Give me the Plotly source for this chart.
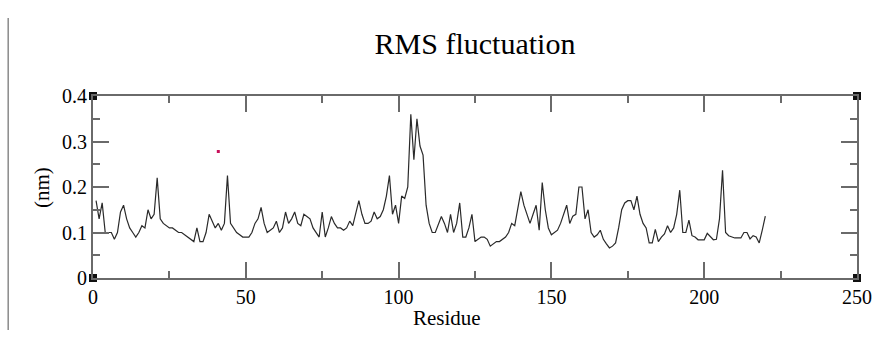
import plotly.graph_objects as go

# ---- data ----
rmsf = [
    0.170, 0.130, 0.165, 0.100, 0.100, 0.100, 0.085, 0.100, 0.145, 0.160,
    0.130, 0.110, 0.100, 0.090, 0.100, 0.115, 0.110, 0.150, 0.130, 0.140,
    0.220, 0.130, 0.120, 0.115, 0.110, 0.110, 0.105, 0.100, 0.100, 0.095,
    0.090, 0.085, 0.080, 0.110, 0.080, 0.080, 0.100, 0.140, 0.125, 0.110,
    0.120, 0.105, 0.120, 0.225, 0.120, 0.110, 0.100, 0.095, 0.090, 0.090,
    0.090, 0.100, 0.120, 0.130, 0.155, 0.120, 0.100, 0.105, 0.110, 0.125,
    0.100, 0.110, 0.145, 0.120, 0.130, 0.145, 0.120, 0.115, 0.140, 0.135,
    0.130, 0.110, 0.100, 0.090, 0.145, 0.090, 0.110, 0.135, 0.120, 0.110,
    0.110, 0.105, 0.110, 0.125, 0.115, 0.140, 0.170, 0.140, 0.120, 0.120,
    0.125, 0.145, 0.130, 0.135, 0.150, 0.180, 0.225, 0.140, 0.160, 0.120,
    0.180, 0.175, 0.200, 0.360, 0.260, 0.350, 0.290, 0.270, 0.160, 0.120,
    0.100, 0.100, 0.120, 0.135, 0.120, 0.100, 0.140, 0.100, 0.120, 0.165,
    0.090, 0.090, 0.110, 0.140, 0.080, 0.085, 0.090, 0.090, 0.085, 0.070,
    0.075, 0.080, 0.080, 0.085, 0.090, 0.100, 0.120, 0.115, 0.150, 0.190,
    0.160, 0.140, 0.120, 0.140, 0.160, 0.105, 0.210, 0.150, 0.110, 0.095,
    0.100, 0.105, 0.120, 0.140, 0.160, 0.120, 0.136, 0.140, 0.200, 0.200,
    0.130, 0.150, 0.100, 0.090, 0.095, 0.105, 0.085, 0.075, 0.066, 0.070,
    0.077, 0.110, 0.150, 0.165, 0.170, 0.170, 0.150, 0.180, 0.140, 0.120,
    0.110, 0.077, 0.077, 0.107, 0.080, 0.090, 0.097, 0.115, 0.100, 0.110,
    0.140, 0.193, 0.100, 0.100, 0.127, 0.093, 0.090, 0.084, 0.084, 0.084,
    0.098, 0.090, 0.084, 0.085, 0.130, 0.237, 0.100, 0.093, 0.090, 0.088,
    0.088, 0.088, 0.100, 0.100, 0.086, 0.093, 0.090, 0.077, 0.105, 0.136,
]
residues = list(range(1, len(rmsf) + 1))

stray_x = [41]
stray_y = [0.278]

x_range = [0, 250]
y_range = [0, 0.4]
x_ticks = [0, 50, 100, 150, 200, 250]
y_ticks = [0, 0.1, 0.2, 0.3, 0.4]
y_tick_text = ["0", "0.1", "0.2", "0.3", "0.4"]

title_text = "RMS fluctuation"
x_title = "Residue"
y_title = "(nm)"

SERIF = "Liberation Serif, Times New Roman, serif"
AXC = "#6a6a6a"

fig = go.Figure()
fig.add_trace(go.Scatter(
    x=residues, y=rmsf, mode="lines",
    line=dict(color="#2a2a2a", width=1.2),
    showlegend=False, hoverinfo="skip",
))
fig.add_trace(go.Scatter(
    x=stray_x, y=stray_y, mode="markers",
    marker=dict(color="#c8105a", size=3, symbol="square"),
    showlegend=False, hoverinfo="skip",
))
# corner handles
fig.add_trace(go.Scatter(
    x=[x_range[0], x_range[0], x_range[1], x_range[1]],
    y=[y_range[0], y_range[1], y_range[1], y_range[0]],
    mode="markers",
    marker=dict(color="#111111", size=8, symbol="square"),
    cliponaxis=False, showlegend=False, hoverinfo="skip",
))

fig.update_layout(
    width=889, height=345,
    margin=dict(l=93, r=32, t=96, b=67),
    paper_bgcolor="white", plot_bgcolor="white",
    font=dict(family=SERIF, color="black", size=20),
    title=dict(text=title_text, x=0.5, xref="paper", y=1 - 43 / 345,
               yanchor="middle", xanchor="center",
               font=dict(family=SERIF, size=30, color="black")),
    annotations=[
        dict(text=x_title, xref="paper", yref="paper", x=0.463, y=-0.22,
             showarrow=False, xanchor="center", yanchor="middle",
             font=dict(family=SERIF, size=21, color="black")),
        dict(text=y_title, xref="paper", yref="paper", x=-0.0668, y=0.5,
             showarrow=False, textangle=-90, xanchor="center", yanchor="middle",
             font=dict(family=SERIF, size=21, color="black")),
    ],
    shapes=[
        dict(type="line", xref="paper", yref="paper",
             x0=-0.111, x1=-0.111, y0=-0.2857, y1=1.4286,
             line=dict(color="#8a8a8a", width=1.5)),
    ],
)

fig.update_xaxes(
    range=x_range, tickvals=x_ticks, ticks="inside", ticklen=16, tickwidth=2,
    tickcolor=AXC, showline=True, linecolor=AXC, linewidth=2, mirror="ticks",
    showgrid=False, zeroline=False, tickfont=dict(family=SERIF, size=20),
    minor=dict(ticks="inside", ticklen=7, tickwidth=2, tickcolor=AXC, dtick=25, showgrid=False),
)
fig.update_yaxes(
    range=y_range, tickvals=y_ticks, ticktext=y_tick_text, ticks="inside", ticklen=16, tickwidth=2,
    tickcolor=AXC, showline=True, linecolor=AXC, linewidth=2, mirror="ticks",
    showgrid=False, zeroline=False, tickfont=dict(family=SERIF, size=20),
    minor=dict(ticks="inside", ticklen=7, tickwidth=2, tickcolor=AXC, dtick=0.05, showgrid=False),
)

fig.write_html("out.html")
